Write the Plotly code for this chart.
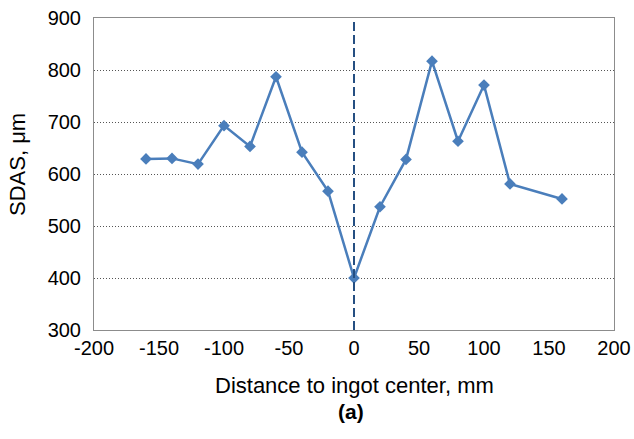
import plotly.graph_objects as go

distance_mm = [-160, -140, -120, -100, -80, -60, -40, -20, 0, 20, 40, 60, 80, 100, 120, 160]
sdas_um = [629, 630, 619, 693, 653, 787, 642, 567, 400, 537, 628, 817, 663, 771, 581, 552]

x_ticks = [-200, -150, -100, -50, 0, 50, 100, 150, 200]
x_tick_labels = ["-200", "-150", "-100", "-50", "0", "50", "100", "150", "200"]
y_ticks = [300, 400, 500, 600, 700, 800, 900]

L, R, T, B = 94, 20, 18, 109
W, H = 634, 439
pw, ph = W - L - R, H - T - B

fig = go.Figure()
fig.add_trace(go.Scatter(
    x=distance_mm, y=sdas_um, mode="lines+markers",
    line=dict(color="#4A7EBB", width=2.5),
    marker=dict(symbol="diamond", size=9, color="#4A7EBB"),
    showlegend=False,
))
fig.add_shape(type="line", xref="x", yref="paper", x0=0, x1=0, y0=0, y1=1,
              line=dict(color="#254F82", width=2, dash="9px,4px"))

font = "Liberation Sans, Arial, sans-serif"
fig.update_layout(
    width=W, height=H,
    margin=dict(l=L, r=R, t=T, b=B, autoexpand=False),
    paper_bgcolor="white", plot_bgcolor="white",
    font=dict(family=font, size=20, color="black"),
    xaxis=dict(range=[-200, 200], tickvals=x_ticks, ticktext=x_tick_labels,
               showgrid=False, zeroline=False, automargin=False,
               showline=True, linecolor="#8C8C8C", linewidth=1, mirror=True,
               ticks="", tickfont=dict(size=20)),
    yaxis=dict(range=[300, 900], tickvals=y_ticks, showgrid=True, gridcolor="#555555",
               griddash="1px,2px", gridwidth=1, zeroline=False, automargin=False,
               showline=True, linecolor="#8C8C8C", linewidth=1, mirror=True,
               ticks="", tickfont=dict(size=20), ticklabelstandoff=8),
    annotations=[
        dict(text="Distance to ingot center, mm", x=(354 - L) / pw, y=(H - B - 385) / ph,
             xref="paper", yref="paper", showarrow=False, font=dict(size=22),
             xanchor="center", yanchor="middle"),
        dict(text="SDAS, μm", x=(17 - L) / pw, y=(H - B - 165) / ph, textangle=-90,
             xref="paper", yref="paper", showarrow=False, font=dict(size=22),
             xanchor="center", yanchor="middle"),
        dict(text="<b>(a)</b>", x=(351 - L) / pw, y=(H - B - 411) / ph,
             xref="paper", yref="paper", showarrow=False, font=dict(size=21),
             xanchor="center", yanchor="middle"),
    ],
)
fig.write_html("out.html")
